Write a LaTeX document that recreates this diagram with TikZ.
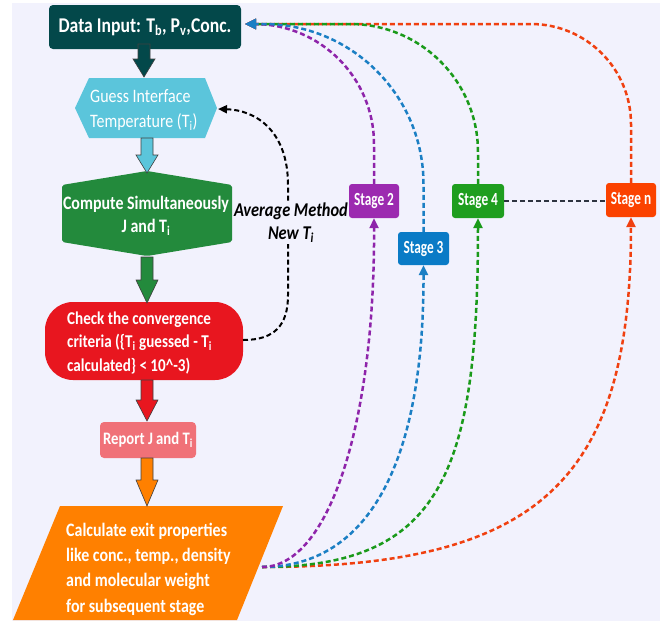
\documentclass[tikz,border=0pt]{standalone}
\usepackage{fontspec}
\setmainfont[FakeStretch=0.84]{Carlito}
\newfontfamily\stagefont[FakeStretch=0.72]{Carlito}
\usetikzlibrary{arrows.meta}
\definecolor{bgc}{HTML}{F2F2FD}
\definecolor{tealc}{HTML}{03484A}
\definecolor{cyanc}{HTML}{5BC5DB}
\definecolor{greenc}{HTML}{238A3C}
\definecolor{redc}{HTML}{E8161F}
\definecolor{pinkc}{HTML}{F07178}
\definecolor{orangec}{HTML}{FF8000}
\definecolor{stpurple}{HTML}{9C2AB0}
\definecolor{stblue}{HTML}{0A7BC6}
\definecolor{stgreen}{HTML}{1F9E1F}
\definecolor{stred}{HTML}{FB4200}
\definecolor{dpurple}{HTML}{8E24AA}
\definecolor{dblue}{HTML}{1B7FC4}
\definecolor{dgreen}{HTML}{1A9A1A}
\definecolor{dred}{HTML}{F04010}
\definecolor{slate}{HTML}{2E3440}
\newcommand\bkarrow[5]{%
  \draw[fill=#1, draw=black!75, line width=0.6pt]
    ({#2-6},#3) -- ({#2+6},#3) -- ({#2+6},#4) -- ({#2+11},#4) -- (#2,#5)
    -- ({#2-11},#4) -- ({#2-6},#4) -- cycle;}
\begin{document}
\begin{tikzpicture}[x=1pt,y=-1pt,
  stagebox/.style={rectangle, rounded corners=3pt, text=white, minimum width=50, minimum height=34,
    inner sep=0pt, font=\stagefont\bfseries\fontsize{18.5}{20}\selectfont},
  dashc/.style={line width=2.5pt, dash pattern=on 5pt off 3pt},
  tiptop/.style={-{Triangle[length=11pt,width=10pt]}},
  tipst/.style={-{Triangle[length=10pt,width=9pt]}},
  wtext/.style={text=white, inner sep=0pt}]
\useasboundingbox (0,0) rectangle (665,630);
\fill[white] (0,0) rectangle (665,630);
\fill[bgc] (12,3) rectangle (660,621);

% main column
\node[rectangle, rounded corners=4pt, fill=tealc, minimum width=192, minimum height=44, text=white,
  font=\fontsize{21}{25}\selectfont\bfseries] (data) at (145,27) {Data Input: T\textsubscript{b}, P\textsubscript{v},Conc.};
\coordinate (din) at (245,24);

\fill[cyanc] (75,108) -- (89,78) -- (205,78) -- (217,108) -- (205,138) -- (89,138) -- cycle;
\node[wtext, align=left, anchor=west, font=\fontsize{19}{25}\selectfont] (guess) at (90,110) {Guess Interface\\Temperature (T\textsubscript{i})};
\coordinate (gie) at (218,109);

\fill[greenc, rounded corners=2pt] (147,171) -- (232,185) -- (232,242) -- (147,256) -- (62,242) -- (62,185) -- cycle;
\node[wtext, align=center, font=\fontsize{19}{23}\selectfont\bfseries] (comp) at (146,216) {Compute Simultaneously\\J and T\textsubscript{i}};

\fill[redc, rounded corners=28pt] (45,302) rectangle (243,380);
\node[wtext, align=left, anchor=west, font=\fontsize{18}{23.5}\selectfont\bfseries] (chk) at (67,343)
  {Check the convergence\\criteria (\{T\textsubscript{i} guessed - T\textsubscript{i}\\calculated\} < 10\^{}-3)};
\coordinate (che) at (243,340);

\node[rectangle, rounded corners=4pt, fill=pinkc, minimum width=96, minimum height=36, text=white,
  inner sep=0pt, font=\fontsize{17.5}{20}\selectfont\bfseries] (rep) at (148,440) {Report J and T\textsubscript{i}};

\fill[orangec] (60,506) -- (283,506) -- (237,620) -- (13,620) -- cycle;
\node[wtext, align=left, anchor=west, font=\fontsize{19}{25.3}\selectfont\bfseries] (calc) at (66,569)
  {Calculate exit properties\\like conc., temp., density\\and molecular weight\\for subsequent stage};
\coordinate (cal) at (262,567);

% block arrows
\bkarrow{tealc}{144}{44}{59}{77}
\bkarrow{cyanc}{147}{138}{155}{173}
\bkarrow{greenc}{147}{257}{280}{303}
\bkarrow{redc}{147}{380}{400}{421}
\bkarrow{orangec}{147}{458}{480}{506}

% stages
\node[stagebox, fill=stpurple] (s2) at (374,201) {Stage 2};
\node[stagebox, fill=stblue, minimum width=51, minimum height=33] (s3) at (423.5,248.5) {Stage 3};
\node[stagebox, fill=stgreen, minimum width=52] (s4) at (478,201) {Stage 4};
\node[stagebox, fill=stred] (sn) at (631,200) {Stage n};

\draw[dashc, slate] (s4.east) -- (s4.east -| sn.west);

% feedback loop
\draw[dashc, black, line width=2pt, -{Triangle[length=9pt,width=8pt]}] (che) .. controls (275,340) and (288,325) .. (288,295)
  -- (288,185) .. controls (288,130) and (255,110) .. (gie);
\node[fill=bgc, inner sep=1pt, align=center, font=\fontsize{19.5}{23}\selectfont\bfseries\itshape] (avg) at (291,223)
  {Average Method\\New T\textsubscript{i}};

% calc -> stages
\draw[dashc, dred, tipst] (cal) .. controls (540,567) and (631,480) .. (sn.south);
\draw[dashc, dgreen, tipst] (cal) .. controls (440,567) and (478,475) .. (s4.south);
\draw[dashc, dblue, tipst] (cal) .. controls (370,567) and (424,460) .. (s3.south);
\draw[dashc, dpurple, tipst] (cal) .. controls (330,567) and (375,420) .. (s2.south);

% stages -> data input
\draw[dashc, dred, tiptop, rounded corners=100pt] (sn.north) |- (din);
\draw[dashc, dgreen, tiptop, rounded corners=128pt] (s4.north) |- (din);
\draw[dashc, dpurple, tiptop, rounded corners=120pt] (s2.north) |- (din);
\draw[dashc, dblue, tiptop, rounded corners=160pt] (s3.north) |- (din);
\end{tikzpicture}
\end{document}
